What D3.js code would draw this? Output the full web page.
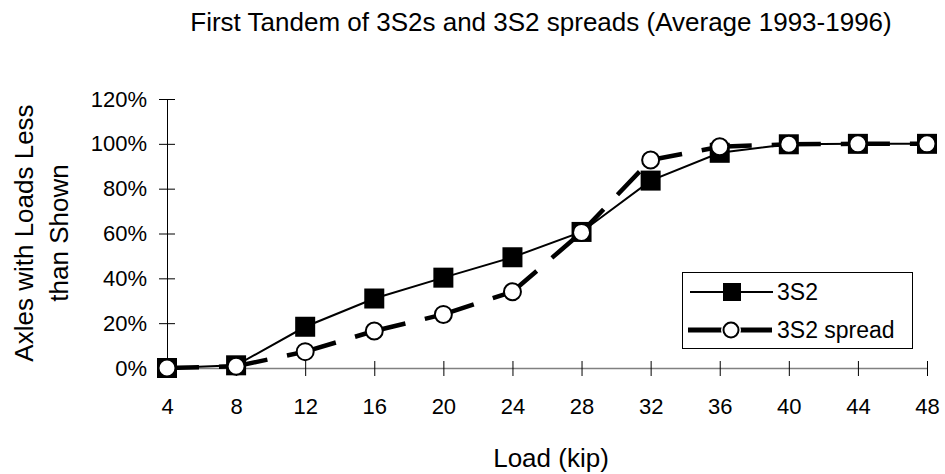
<!DOCTYPE html>
<html>
<head>
<meta charset="utf-8">
<script src="https://cdn.jsdelivr.net/npm/d3@7"></script>
<style>
  body { margin: 0; background: #fff; }
  text { font-family: "Liberation Sans", Arial, sans-serif; fill: #000; }
</style>
</head>
<body>
<div id="chart-area"></div>
<script>
// data
const loads = [4, 8, 12, 16, 20, 24, 28, 32, 36, 40, 44, 48];
const s3s2 = [0, 1.2, 18.4, 31, 40.3, 49.4, 60.7, 83.6, 96, 99.8, 100, 100];
const s3s2Spread = [0, 0.8, 7.3, 16.5, 23.9, 34, 60.5, 92.8, 98.7, 99.8, 100, 100];
const yTicks = [0, 20, 40, 60, 80, 100, 120];

const WIDTH = 945, HEIGHT = 474;
const MARGIN = { LEFT: 167, RIGHT: 18, TOP: 99, BOTTOM: 106 };
const FONT = "Liberation Sans, Arial, sans-serif";

const svg = d3.select("#chart-area")
  .append("svg")
    .attr("width", WIDTH)
    .attr("height", HEIGHT);

const x = d3.scalePoint()
  .domain(loads)
  .range([MARGIN.LEFT, WIDTH - MARGIN.RIGHT]);

const y = d3.scaleLinear()
  .domain([0, 120])
  .range([HEIGHT - MARGIN.BOTTOM, MARGIN.TOP]);

// title
svg.append("text")
  .attr("x", 541)
  .attr("y", 31)
  .attr("font-size", "26px")
  .attr("text-anchor", "middle")
  .text("First Tandem of 3S2s and 3S2 spreads (Average 1993-1996)");

// x axis (grey line, ticks crossing)
const xAxis = svg.append("g")
  .attr("transform", `translate(0, ${y(0)})`)
  .call(d3.axisBottom(x).tickSize(0).tickPadding(30));
xAxis.select(".domain").attr("stroke", "#808080").attr("stroke-width", 1.5);
xAxis.selectAll(".tick line").remove();
xAxis.selectAll(".tick").append("line")
  .attr("y1", -7).attr("y2", 8)
  .attr("stroke", "#000");
xAxis.selectAll("text").attr("font-size", "22px").attr("font-family", FONT);

// y axis
const yAxis = svg.append("g")
  .attr("transform", `translate(${MARGIN.LEFT}, 0)`)
  .call(d3.axisLeft(y).tickValues(yTicks).tickFormat(d => d + "%").tickSize(0).tickPadding(20));
yAxis.select(".domain").attr("stroke", "#000");
yAxis.selectAll(".tick").append("line")
  .attr("x1", -8).attr("x2", 8)
  .attr("stroke", "#000");
yAxis.selectAll("text").attr("font-size", "22px").attr("font-family", FONT);

// axis labels
svg.append("text")
  .attr("x", 551)
  .attr("y", 467)
  .attr("font-size", "26px")
  .attr("text-anchor", "middle")
  .text("Load (kip)");

const yLabel = svg.append("text")
  .attr("transform", "translate(33, 233) rotate(-90)")
  .attr("font-size", "26px")
  .attr("text-anchor", "middle");
yLabel.append("tspan").attr("x", 0).attr("dy", 0).text("Axles with Loads Less");
yLabel.append("tspan").attr("x", 0).attr("dy", 34.5).text("than Shown");

const line = d3.line()
  .x(d => x(d[0]))
  .y(d => y(d[1]));

// 3S2 spread: thick dashed line, dash restarts at each point
const spreadPts = loads.map((l, i) => [l, s3s2Spread[i]]);
svg.selectAll(".seg")
  .data(d3.pairs(spreadPts))
  .enter()
  .append("path")
    .attr("class", "seg")
    .attr("fill", "none")
    .attr("stroke", "#000")
    .attr("stroke-width", 4.5)
    .attr("stroke-dasharray", "32,20")
    .attr("d", d => line(d));

// 3S2: thin solid line with filled squares
svg.append("path")
  .datum(loads.map((l, i) => [l, s3s2[i]]))
  .attr("fill", "none")
  .attr("stroke", "#000")
  .attr("stroke-width", 2)
  .attr("d", line);

svg.selectAll(".sq")
  .data(s3s2)
  .enter()
  .append("rect")
    .attr("class", "sq")
    .attr("x", (d, i) => x(loads[i]) - 10)
    .attr("y", d => y(d) - 10)
    .attr("width", 20)
    .attr("height", 20)
    .attr("fill", "#000");

svg.selectAll(".circ")
  .data(s3s2Spread)
  .enter()
  .append("circle")
    .attr("class", "circ")
    .attr("cx", (d, i) => x(loads[i]))
    .attr("cy", d => y(d))
    .attr("r", 8.5)
    .attr("fill", "#fff")
    .attr("stroke", "#000")
    .attr("stroke-width", 2);

// legend
const legend = svg.append("g");
legend.append("rect")
  .attr("x", 682.5).attr("y", 272.5)
  .attr("width", 230).attr("height", 76)
  .attr("fill", "#fff")
  .attr("stroke", "#000");

legend.append("line")
  .attr("x1", 690).attr("x2", 773).attr("y1", 292).attr("y2", 292)
  .attr("stroke", "#000").attr("stroke-width", 2);
legend.append("rect")
  .attr("x", 723).attr("y", 283).attr("width", 18).attr("height", 18)
  .attr("fill", "#000");
legend.append("text")
  .attr("x", 777).attr("y", 299.5)
  .attr("font-size", "23px")
  .attr("font-family", FONT)
  .text("3S2");

legend.append("line")
  .attr("x1", 688).attr("x2", 772).attr("y1", 330).attr("y2", 330)
  .attr("stroke", "#000").attr("stroke-width", 5);
legend.append("circle")
  .attr("cx", 731).attr("cy", 330).attr("r", 10)
  .attr("fill", "#fff");
legend.append("circle")
  .attr("cx", 731).attr("cy", 330).attr("r", 7.5)
  .attr("fill", "#fff").attr("stroke", "#000").attr("stroke-width", 2);
legend.append("text")
  .attr("x", 777).attr("y", 337.5)
  .attr("font-size", "23px")
  .attr("font-family", FONT)
  .text("3S2 spread");
</script>
</body>
</html>
